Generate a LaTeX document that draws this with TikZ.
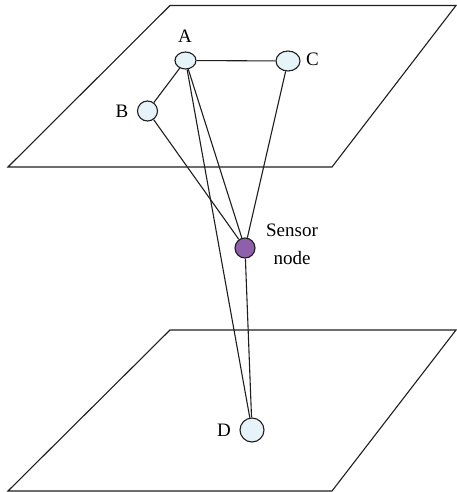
\documentclass[tikz,border=0pt]{standalone}
\usepackage{fontspec}
\setmainfont{Liberation Serif}
\definecolor{nodefill}{HTML}{E6F4FA}
\definecolor{sensorfill}{HTML}{8F5FAB}
\definecolor{linec}{HTML}{1E1E1E}
\begin{document}
\begin{tikzpicture}[x=1pt,y=-1pt,
  plane/.style={draw=linec,line width=1.1pt,line join=miter},
  conn/.style={draw=linec,line width=1.1pt},
  sn/.style={circle,draw=linec,line width=1.1pt,fill=nodefill,inner sep=0pt,minimum size=20pt},
  en/.style={ellipse,draw=linec,line width=1.1pt,fill=nodefill,inner sep=0pt,minimum width=21pt,minimum height=17pt},
  lab/.style={font=\fontsize{19}{28}\selectfont,inner sep=0pt}]
\usetikzlibrary{shapes.geometric}
\useasboundingbox (0,0) rectangle (457,492);
\draw[plane] (170,5.5) -- (456,5.5) -- (332,167) -- (8,167) -- cycle;
\draw[plane] (170,330) -- (456,330) -- (332,491) -- (8,491) -- cycle;
\node[en] (A) at (185.5,60.5) {};
\node[en,minimum width=24pt,minimum height=20pt] (C) at (288,61) {};
\node[sn] (B) at (147.5,111) {};
\node[sn,fill=sensorfill] (S) at (245,248) {};
\node[sn,minimum size=24pt] (D) at (252,430) {};
\node[lab] (LA) at (185,36) {A};
\node[lab] (LC) at (312.5,59.5) {C};
\node[lab] (LB) at (122,111.5) {B};
\node[lab] (LD) at (224,430.5) {D};
\node[lab,align=center] (LS) at (292,244) {Sensor\\node};
\draw[conn] (A) -- (C);
\draw[conn] (A) -- (B);
\draw[conn] (B) -- (S);
\draw[conn] (A) -- (S);
\draw[conn] (A) -- (D);
\draw[conn] (C) -- (S);
\draw[conn] (S) -- (D);
\end{tikzpicture}
\end{document}
